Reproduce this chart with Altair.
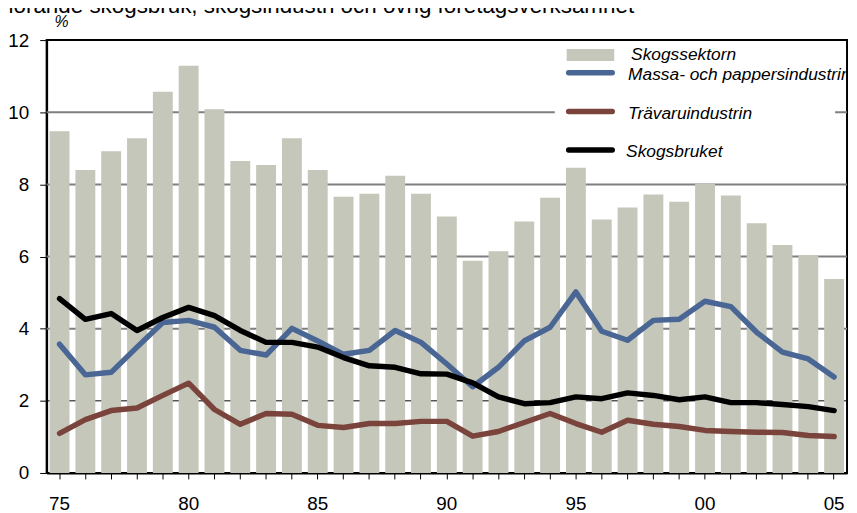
import altair as alt
import pandas as pd

years = list(range(1975, 2006))

skogssektorn = [9.47, 8.40, 8.92, 9.28, 10.57, 11.29, 10.08, 8.65, 8.54, 9.28,
                8.40, 7.66, 7.74, 8.24, 7.74, 7.11, 5.88, 6.15, 6.97, 7.63,
                8.46, 7.03, 7.36, 7.72, 7.52, 8.02, 7.69, 6.92, 6.32, 6.04, 5.38]

massa = [3.57, 2.72, 2.79, 3.49, 4.17, 4.23, 4.04, 3.40, 3.27, 4.01,
         3.66, 3.29, 3.40, 3.95, 3.62, 3.02, 2.39, 2.93, 3.66, 4.04,
         5.02, 3.93, 3.68, 4.23, 4.26, 4.76, 4.61, 3.90, 3.35, 3.16, 2.66]

travaru = [1.10, 1.48, 1.73, 1.80, 2.15, 2.49, 1.76, 1.35, 1.65, 1.63,
           1.32, 1.26, 1.37, 1.37, 1.43, 1.43, 1.02, 1.15, 1.40, 1.65,
           1.37, 1.13, 1.46, 1.35, 1.29, 1.18, 1.15, 1.13, 1.12, 1.04, 1.01]

skogsbruket = [4.83, 4.26, 4.42, 3.95, 4.31, 4.59, 4.36, 3.95, 3.62, 3.62,
               3.49, 3.20, 2.97, 2.93, 2.75, 2.74, 2.50, 2.11, 1.92, 1.95,
               2.11, 2.06, 2.22, 2.15, 2.03, 2.11, 1.95, 1.95, 1.90, 1.84, 1.73]

series_names = ["Skogssektorn", "Massa- och pappersindustrin", "Trävaruindustrin", "Skogsbruket"]
y_ticks = [0, 2, 4, 6, 8, 10, 12]
grid_gray = [4, 6, 8, 10]
grid_dark = [2]
title_text = "hörande skogsbruk, skogsindustri och övrig företagsverksamhet"
unit_text = "%"

BAR = "#c4c7b9"
BLUE = "#4a6694"
RED = "#7a433b"
BLACK = "#000000"
FONT = "Liberation Sans Narrow, Liberation Sans, Arial"

df = pd.DataFrame({
    "year": years,
    "sektor": skogssektorn,
    "massa": massa,
    "travaru": travaru,
    "bruk": skogsbruket,
})

xscale = alt.Scale(paddingInner=0.23, paddingOuter=0.115)
yscale = alt.Scale(domain=[0, 12], nice=False)

xaxis = alt.Axis(
    title=None, labelAngle=0, tickSize=6, tickColor="black", tickWidth=1,
    domainColor="black", domainWidth=2, labelPadding=16, labelFontSize=19,
    labelFont=FONT, labelColor="black",
    labelExpr="datum.value % 5 == 0 ? substring(toString(datum.value), 2, 4) : ''",
)
yaxis = alt.Axis(
    title=None, values=y_ticks, grid=False, tickSize=7, tickColor="black",
    domainColor="black", domainWidth=2, labelPadding=11, labelFontSize=19,
    labelFont=FONT, labelColor="black",
)

base = alt.Chart(df)

grid1 = alt.Chart(pd.DataFrame({"v": grid_gray})).mark_rule(color="#7f7f7f", strokeWidth=2).encode(
    y=alt.Y("v:Q", scale=yscale, axis=yaxis))
grid2 = alt.Chart(pd.DataFrame({"v": grid_dark})).mark_rule(color="#000000", strokeWidth=1).encode(
    y=alt.Y("v:Q", scale=yscale, axis=yaxis))

bars = base.mark_bar(color=BAR).encode(
    x=alt.X("year:O", scale=xscale, axis=xaxis),
    y=alt.Y("sektor:Q", scale=yscale, axis=yaxis),
)

legend_box = alt.Chart(pd.DataFrame({"k": [1]})).mark_rect(fill="white").encode(
    x=alt.value(513), x2=alt.value(796), y=alt.value(2), y2=alt.value(125))


def line(field, color):
    return base.mark_line(color=color, strokeWidth=5.5, strokeJoin="round", strokeCap="round").encode(
        x=alt.X("year:O", scale=xscale, axis=xaxis, bandPosition=0.5),
        y=alt.Y(f"{field}:Q", scale=yscale, axis=yaxis),
    )


l_massa = line("massa", BLUE)
l_trav = line("travaru", RED)
l_bruk = line("bruk", BLACK)

# legend
leg_df = pd.DataFrame({"name": series_names})
swatch = alt.Chart(leg_df.iloc[[0]]).mark_rect(color=BAR).encode(
    x=alt.value(525), x2=alt.value(573), y=alt.value(9), y2=alt.value(21))


def leg_line(i, color, ypix):
    return alt.Chart(leg_df.iloc[[i]]).mark_rule(color=color, strokeWidth=5.5, strokeCap="round").encode(
        x=alt.value(527), x2=alt.value(571), y=alt.value(ypix))


def leg_text(i, xpix, ypix):
    return alt.Chart(leg_df.iloc[[i]]).mark_text(
        align="left", baseline="middle", fontStyle="italic", fontSize=17.5,
        font="Liberation Sans, Arial", color="black", clip=True,
    ).encode(x=alt.value(xpix), y=alt.value(ypix), text="name:N")


legend_layers = [
    swatch,
    leg_line(1, BLUE, 33), leg_line(2, RED, 72), leg_line(3, BLACK, 111),
    leg_text(0, 590, 15), leg_text(1, 587, 35), leg_text(2, 587, 75), leg_text(3, 585, 113),
]

unit = alt.Chart(pd.DataFrame({"t": [unit_text]})).mark_text(
    align="left", baseline="middle", fontSize=16, font=FONT, color="black", fontStyle="italic"
).encode(x=alt.value(8), y=alt.value(-18), text="t:N")

title = alt.Chart(pd.DataFrame({"t": [title_text]})).mark_text(
    align="left", baseline="alphabetic", fontSize=22.6, font="Liberation Sans, Arial", color="black"
).encode(x=alt.value(-46), y=alt.value(-27.5), text="t:N")

chart = alt.layer(
    grid1, grid2, bars, legend_box, l_massa, l_trav, l_bruk, *legend_layers, unit, title
).properties(
    width=808, height=437,
    autosize="none",
    padding={"left": 39, "top": 30, "right": 2, "bottom": 38},
    background="white",
).configure_view(stroke="black", strokeWidth=2)

chart.save("out.html", embed_options={"renderer": "svg", "actions": False})
